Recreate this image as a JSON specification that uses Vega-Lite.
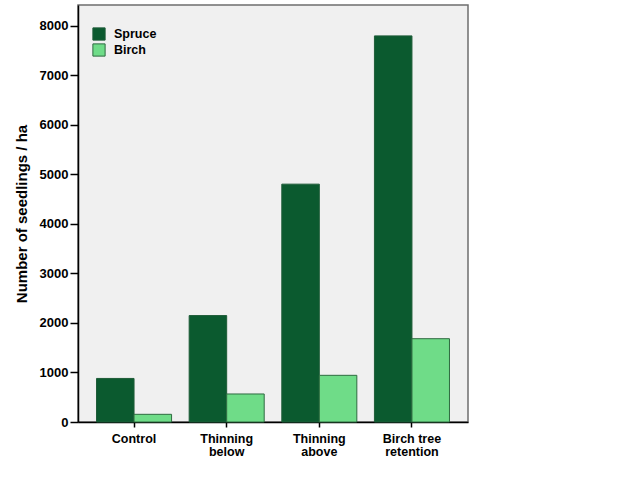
{
  "$schema": "https://vega.github.io/schema/vega-lite/v6.json",
  "autosize": {"type": "none"},
  "padding": {"left": 78, "top": 5, "right": 158, "bottom": 79},
  "width": 390,
  "height": 417,
  "background": "white",
  "config": {
    "font": "Liberation Sans",
    "view": {"fill": "#F0F0F0", "stroke": "#6e6e6e", "strokeWidth": 1.5}
  },
  "data": {
    "values": [
      {"treatment": "Control", "species": "Spruce", "seedlings": 880},
      {"treatment": "Control", "species": "Birch", "seedlings": 155},
      {"treatment": "Thinning below", "species": "Spruce", "seedlings": 2150},
      {"treatment": "Thinning below", "species": "Birch", "seedlings": 566},
      {"treatment": "Thinning above", "species": "Spruce", "seedlings": 4805},
      {"treatment": "Thinning above", "species": "Birch", "seedlings": 943},
      {"treatment": "Birch tree retention", "species": "Spruce", "seedlings": 7800},
      {"treatment": "Birch tree retention", "species": "Birch", "seedlings": 1683}
    ]
  },
  "mark": {"type": "bar", "strokeWidth": 1},
  "encoding": {
    "x": {
      "field": "treatment",
      "type": "nominal",
      "sort": ["Control", "Thinning below", "Thinning above", "Birch tree retention"],
      "scale": {"paddingInner": 0.19, "paddingOuter": 0.2},
      "axis": {
        "title": null,
        "labelAngle": 0,
        "labelFont": "Liberation Sans",
        "labelFontSize": 12.5,
        "labelFontWeight": "bold",
        "labelColor": "#000000",
        "labelLineHeight": 13.5,
        "labelPadding": 5,
        "tickSize": 5,
        "tickColor": "#000000",
        "tickWidth": 1.5,
        "domainColor": "#000000",
        "domainWidth": 1.5,
        "labelExpr": "datum.label == 'Thinning below' ? ['Thinning','below'] : datum.label == 'Thinning above' ? ['Thinning','above'] : datum.label == 'Birch tree retention' ? ['Birch tree','retention'] : datum.label"
      }
    },
    "xOffset": {
      "field": "species",
      "type": "nominal",
      "sort": ["Spruce", "Birch"],
      "scale": {"paddingInner": 0, "paddingOuter": 0}
    },
    "y": {
      "field": "seedlings",
      "type": "quantitative",
      "scale": {"domain": [0, 8424], "nice": false},
      "axis": {
        "title": "Number of seedlings / ha",
        "titleFont": "Liberation Sans",
        "titleFontSize": 15,
        "titleFontWeight": "bold",
        "titleColor": "#000000",
        "titlePadding": 10,
        "format": "d",
        "values": [0, 1000, 2000, 3000, 4000, 5000, 6000, 7000, 8000],
        "grid": false,
        "labelFont": "Liberation Sans",
        "labelFontSize": 13,
        "labelFontWeight": "bold",
        "labelColor": "#000000",
        "labelPadding": 2,
        "tickSize": 8,
        "tickColor": "#000000",
        "tickWidth": 1.5,
        "domainColor": "#000000",
        "domainWidth": 1.5
      }
    },
    "color": {
      "field": "species",
      "type": "nominal",
      "sort": ["Spruce", "Birch"],
      "scale": {"domain": ["Spruce", "Birch"], "range": ["#0B5A2F", "#6FDC88"]},
      "legend": {
        "title": null,
        "orient": "none",
        "legendX": 14,
        "legendY": 22,
        "symbolType": "square",
        "symbolSize": 150,
        "symbolStrokeColor": "#2f6b40",
        "symbolStrokeWidth": 1,
        "labelFont": "Liberation Sans",
        "labelFontSize": 12.5,
        "labelFontWeight": "bold",
        "labelColor": "#000000",
        "labelOffset": 8,
        "rowPadding": -2
      }
    },
    "stroke": {
      "field": "species",
      "type": "nominal",
      "scale": {"domain": ["Spruce", "Birch"], "range": ["#1e5c38", "#2f6b40"]},
      "legend": null
    }
  }
}
